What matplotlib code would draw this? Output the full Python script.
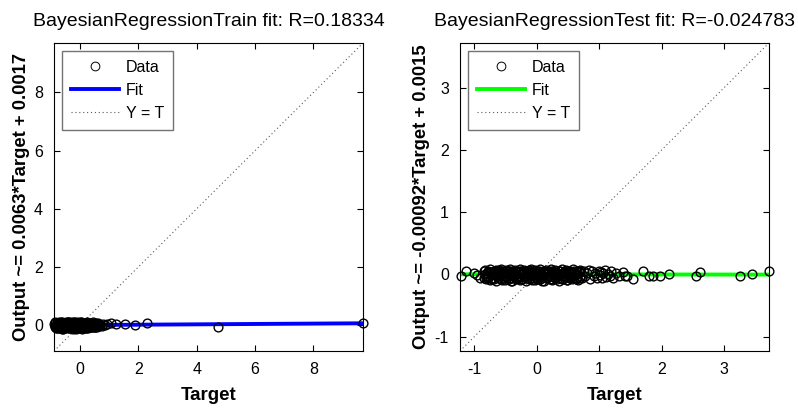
import matplotlib
matplotlib.use("Agg")
import matplotlib.pyplot as plt

plt.rcParams["font.family"] = ["Liberation Sans", "DejaVu Sans"]
plt.rcParams["axes.unicode_minus"] = False

# train set: targets and network outputs
train_target = [
    -0.88, -0.86, -0.84, -0.82, -0.80, -0.78, -0.76, -0.74, -0.72, -0.70,
    -0.68, -0.66, -0.64, -0.62, -0.60, -0.58, -0.56, -0.54, -0.52, -0.50,
    -0.48, -0.46, -0.44, -0.42, -0.40, -0.38, -0.36, -0.34, -0.32, -0.30,
    -0.28, -0.26, -0.24, -0.22, -0.20, -0.18, -0.16, -0.14, -0.12, -0.10,
    -0.08, -0.06, -0.04, -0.02, 0.00, 0.02, 0.04, 0.06, 0.08, 0.10,
    0.12, 0.14, 0.16, 0.18, 0.20, 0.22, 0.24, 0.26, 0.28, 0.30,
    -0.85, -0.80, -0.75, -0.70, -0.65, -0.60, -0.55, -0.50, -0.45, -0.40,
    -0.35, -0.30, -0.25, -0.20, -0.15, -0.10, -0.05, 0.00, 0.05, 0.10,
    0.15, 0.20, 0.25, 0.30, 0.35, 0.40, 0.45, 0.50, 0.55,
    -0.87, -0.82, -0.77, -0.72, -0.67, -0.62, -0.57, -0.52, -0.47, -0.42,
    -0.37, -0.32, -0.27, -0.22, -0.17, -0.12, -0.07, -0.02, 0.03, 0.08,
    0.13, 0.18, 0.23, 0.28, 0.33, 0.38, 0.43, 0.48, 0.53, 0.58, 0.63,
    0.33, 0.37, 0.41, 0.45, 0.49, 0.53, 0.57, 0.61, 0.65, 0.70,
    0.74, 0.80, 0.86, 0.93, 1.07, 1.24, 1.53, 1.88, 2.28, 4.73, 9.70,
]
train_output = [
    0.04, -0.07, 0.10, -0.02, 0.06, -0.11, 0.01, 0.09, -0.05, 0.03,
    -0.09, 0.11, -0.01, 0.07, -0.12, 0.05, -0.04, 0.08, -0.10, 0.02,
    0.10, -0.06, 0.04, -0.11, 0.07, -0.03, 0.12, -0.08, 0.00, 0.09,
    -0.05, 0.03, -0.12, 0.06, -0.02, 0.11, -0.09, 0.05, -0.06, 0.08,
    -0.01, -0.10, 0.07, 0.02, -0.08, 0.10, -0.04, 0.06, -0.11, 0.03,
    0.09, -0.07, 0.01, -0.03, 0.08, -0.09, 0.05, -0.05, 0.07, -0.02,
    -0.04, 0.08, -0.09, 0.05, -0.06, 0.12, -0.11, 0.03, -0.08, 0.10,
    -0.10, 0.06, -0.07, 0.11, -0.12, 0.04, 0.09, -0.09, 0.12, -0.06,
    0.05, -0.10, 0.11, -0.03, 0.07, -0.08, 0.04, -0.05, 0.06,
    0.09, -0.10, 0.00, 0.11, -0.07, 0.04, -0.12, 0.08, -0.03, 0.12,
    -0.09, 0.02, 0.10, -0.11, 0.06, -0.04, 0.11, -0.08, 0.03, -0.12,
    0.09, -0.02, 0.07, -0.10, 0.05, -0.06, 0.10, -0.08, 0.04, -0.05, 0.02,
    0.02, -0.06, 0.08, -0.03, 0.05, -0.07, 0.03, 0.06, -0.04, 0.02,
    -0.02, 0.03, 0.01, 0.04, 0.06, 0.03, 0.03, -0.01, 0.06, -0.05, 0.07,
]

# test set: targets and network outputs
test_target = [
    -0.85, -0.825, -0.80, -0.775, -0.75, -0.725, -0.70, -0.675, -0.65, -0.625,
    -0.60, -0.575, -0.55, -0.525, -0.50, -0.475, -0.45, -0.425, -0.40, -0.375,
    -0.35, -0.325, -0.30, -0.275, -0.25, -0.225, -0.20, -0.175, -0.15, -0.125,
    -0.10, -0.075, -0.05, -0.025, 0.00, 0.025, 0.05, 0.075, 0.10, 0.125,
    0.15, 0.175, 0.20, 0.225, 0.25, 0.275, 0.30, 0.325, 0.35, 0.375,
    0.40, 0.425, 0.45, 0.475, 0.50, 0.525, 0.55, 0.575, 0.60, 0.625,
    0.65, 0.675, 0.70,
    -0.84, -0.81, -0.78, -0.75, -0.72, -0.69, -0.66, -0.63, -0.60, -0.57,
    -0.54, -0.51, -0.48, -0.45, -0.42, -0.39, -0.36, -0.33, -0.30, -0.27,
    -0.24, -0.21, -0.18, -0.15, -0.12, -0.09, -0.06, -0.03, 0.00, 0.03,
    0.06, 0.09, 0.12, 0.15, 0.18, 0.21, 0.24, 0.27, 0.30, 0.33,
    0.36, 0.39, 0.42, 0.45, 0.48, 0.51, 0.54, 0.57, 0.60, 0.63,
    0.66, 0.69,
    -0.83, -0.79, -0.75, -0.71, -0.67, -0.63, -0.59, -0.55, -0.51, -0.47,
    -0.43, -0.39, -0.35, -0.31, -0.27, -0.23, -0.19, -0.15, -0.11, -0.07,
    -0.03, 0.01, 0.05, 0.09, 0.13, 0.17, 0.21, 0.25, 0.29, 0.33,
    0.37, 0.41, 0.45, 0.49, 0.53, 0.57, 0.61, 0.65, 0.69,
    -0.80, -0.76, -0.72, -0.68, -0.64, -0.60, -0.56, -0.52, -0.48, -0.44,
    -0.40, -0.36, -0.32, -0.28, -0.24, -0.20, -0.16, -0.12, -0.08, -0.04,
    0.00, 0.04, 0.08, 0.12, 0.16, 0.20, 0.24, 0.28, 0.32, 0.36,
    0.40, 0.44, 0.48, 0.52, 0.56, 0.60, 0.64, 0.68,
    -1.22, -1.13, -1.00, -0.96, -0.91,
    0.70, 0.73, 0.75, 0.78, 0.81, 0.83, 0.86, 0.88, 0.91, 0.94,
    0.97, 1.00, 1.01, 1.03, 1.04, 1.06, 1.09, 1.11, 1.14, 1.17,
    1.19, 1.22, 1.27, 1.32, 1.38, 1.42,
    1.45, 1.54, 1.70, 1.80, 1.86, 1.98, 2.12, 2.55, 2.62, 3.26, 3.45, 3.72,
]
test_output = [
    0.05, 0.07, 0.03, 0.06, 0.08, 0.04, 0.02, 0.06, 0.07, 0.05,
    0.03, 0.08, 0.06, 0.04, 0.07, 0.02, 0.05, 0.08, 0.06, 0.03,
    0.07, 0.05, 0.04, 0.08, 0.06, 0.02, 0.07, 0.05, 0.03, 0.06,
    0.08, 0.04, 0.06, 0.07, 0.03, 0.05, 0.08, 0.02, 0.06, 0.04,
    0.07, 0.05, 0.03, 0.08, 0.06, 0.04, 0.07, 0.02, 0.05, 0.06,
    0.08, 0.03, 0.05, 0.07, 0.04, 0.06, 0.02, 0.08, 0.05, 0.03,
    0.06, 0.04, 0.07,
    -0.06, -0.08, -0.04, -0.09, -0.05, -0.07, -0.10, -0.03, -0.06, -0.08,
    -0.05, -0.09, -0.04, -0.07, -0.10, -0.06, -0.03, -0.08, -0.05, -0.09,
    -0.07, -0.04, -0.10, -0.06, -0.08, -0.03, -0.05, -0.09, -0.07, -0.04,
    -0.08, -0.06, -0.10, -0.05, -0.03, -0.07, -0.09, -0.04, -0.06, -0.08,
    -0.10, -0.05, -0.07, -0.03, -0.09, -0.06, -0.04, -0.08, -0.05, -0.07,
    -0.09, -0.06,
    0.01, -0.02, 0.02, -0.01, 0.00, 0.03, -0.03, 0.01, -0.02, 0.02,
    0.00, -0.01, 0.03, -0.03, 0.01, 0.02, -0.02, 0.00, 0.03, -0.01,
    -0.03, 0.02, 0.01, -0.02, 0.00, 0.03, -0.01, 0.02, -0.03, 0.01,
    0.00, -0.02, 0.03, -0.01, 0.02, -0.03, 0.01, 0.00, -0.02,
    -0.05, 0.04, -0.08, 0.06, -0.03, 0.07, -0.09, 0.02, -0.06, 0.05,
    -0.10, 0.03, -0.04, 0.06, -0.08, 0.04, -0.02, 0.07, -0.09, 0.01,
    -0.06, 0.05, -0.10, 0.03, -0.05, 0.06, -0.08, 0.02, -0.03, 0.05,
    -0.07, 0.04, -0.09, 0.06, -0.04, 0.03, -0.06, 0.05,
    -0.02, 0.05, 0.03, -0.01, -0.05,
    0.04, -0.06, 0.06, -0.03, 0.02, 0.07, -0.07, 0.05, -0.02, 0.03,
    -0.05, 0.06, -0.01, 0.04, -0.06, 0.02, 0.07, -0.04, 0.01, -0.03,
    0.05, -0.05, 0.03, -0.02, 0.04, -0.03,
    -0.03, -0.07, 0.05, -0.02, -0.02, -0.02, 0.00, -0.02, 0.04, -0.02, 0.00, 0.05,
]

train_fit = (0.0063, 0.0017)
test_fit = (-0.00092, 0.0015)
train_lim = [-0.89, 9.70]
test_lim = [-1.23, 3.72]
train_ticks = [0, 2, 4, 6, 8]
test_ticks = [-1, 0, 1, 2, 3]


def draw_panel(ax, target, output, fit, lim, ticks, fit_color, title, ylabel):
    ax.plot(target, output, "o", ms=6.3, mfc="none", mec="k", mew=1.0,
            label="Data", zorder=3, clip_on=False)
    ax.plot(lim, [fit[0] * lim[0] + fit[1], fit[0] * lim[1] + fit[1]],
            color=fit_color, lw=2.8, label="Fit", zorder=2)
    ax.plot(lim, lim, color="0.35", lw=0.8, linestyle=(0, (1, 2.5)),
            label="Y = T", zorder=1)
    ax.set_xlim(lim)
    ax.set_ylim(lim)
    ax.set_xticks(ticks)
    ax.set_yticks(ticks)
    ax.tick_params(direction="in", top=True, right=True, length=4,
                   width=0.8, labelsize=11.5, pad=8)
    for s in ax.spines.values():
        s.set_linewidth(0.8)
    ax.set_title(title, fontsize=14, pad=12)
    ax.set_xlabel("Target", fontsize=13.5, fontweight="bold", labelpad=7)
    ax.set_ylabel(ylabel, fontsize=13.3, fontweight="bold", labelpad=3)
    leg = ax.legend(loc="upper left", fontsize=11.5, fancybox=False,
                    edgecolor="0.45", framealpha=1, handlelength=3.0,
                    labelspacing=0.5, borderpad=0.55, handletextpad=0.45,
                    borderaxespad=0.5)
    leg.get_frame().set_linewidth(1.0)
    # thinner circle in the legend, like the single markers
    leg.legend_handles[0].set_markeredgewidth(0.7)


fig = plt.figure(figsize=(7.98, 4.08), dpi=100)
ax1 = fig.add_axes([0.0677, 0.1397, 0.3872, 0.7549])
ax2 = fig.add_axes([0.5764, 0.1397, 0.3872, 0.7549])

draw_panel(ax1, train_target, train_output, train_fit, train_lim, train_ticks,
           (0, 0, 1), "BayesianRegressionTrain fit: R=0.18334",
           "Output ~= 0.0063*Target + 0.0017")
draw_panel(ax2, test_target, test_output, test_fit, test_lim, test_ticks,
           (0, 1, 0), "BayesianRegressionTest fit: R=-0.024783",
           "Output ~= -0.00092*Target + 0.0015")

fig.savefig("out.png", dpi=100)
